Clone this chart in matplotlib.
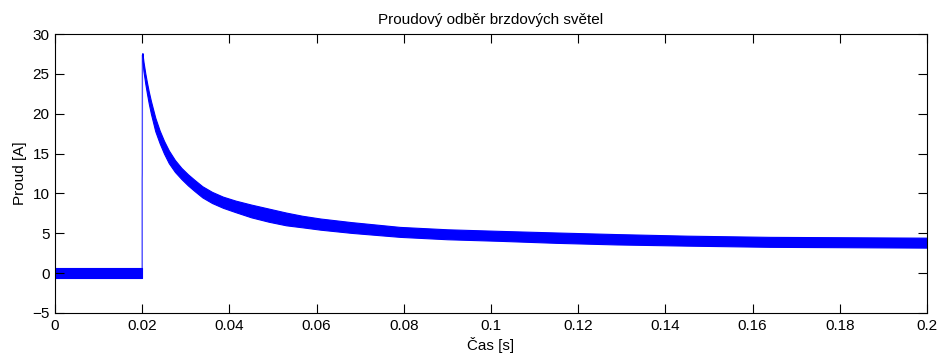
import numpy as np
import matplotlib.pyplot as plt

plt.rcParams['font.family'] = ['Liberation Sans', 'DejaVu Sans']
plt.rcParams['font.size'] = 11

# obálka zašuměného průběhu (čas [s], horní a dolní hrana [A])
t_pre = [0.0, 0.005, 0.010, 0.015, 0.0200]
hi_pre = [0.65, 0.65, 0.65, 0.65, 0.65]
lo_pre = [-0.65, -0.65, -0.65, -0.65, -0.65]

t_post = [0.02005, 0.0203, 0.0207, 0.0211, 0.0215, 0.0220, 0.0230, 0.0240,
          0.0250, 0.0261, 0.0275, 0.0290, 0.0305, 0.0320, 0.0338, 0.0360,
          0.0385, 0.0414, 0.0450, 0.0490, 0.0530, 0.0567, 0.0609, 0.0680,
          0.0791, 0.0900, 0.1021, 0.1150, 0.1288, 0.1450, 0.1640, 0.1820, 0.2000]
hi_post = [27.6, 26.5, 25.1, 23.9, 22.8, 21.6, 19.5, 17.9,
           16.6, 15.4, 14.2, 13.2, 12.4, 11.7, 10.9, 10.2,
           9.6, 9.1, 8.6, 8.1, 7.6, 7.2, 6.85, 6.4,
           5.8, 5.5, 5.3, 5.1, 4.9, 4.7, 4.55, 4.5, 4.45]
lo_post = [26.6, 25.3, 23.8, 22.5, 21.3, 20.0, 17.8, 16.3,
           15.0, 13.8, 12.7, 11.8, 11.0, 10.3, 9.5, 8.8,
           8.2, 7.65, 7.0, 6.45, 6.0, 5.75, 5.45, 5.05,
           4.55, 4.25, 4.05, 3.8, 3.6, 3.45, 3.3, 3.25, 3.2]

# náběh proudu v okamžiku sepnutí
t_rise = [0.0200, 0.0200, 0.02002, 0.02005]
i_rise = [-0.3, 11.8, 12.5, 27.3]

x_ticks = [0, 0.02, 0.04, 0.06, 0.08, 0.1, 0.12, 0.14, 0.16, 0.18, 0.2]
x_ticklabels = ['0', '0.02', '0.04', '0.06', '0.08', '0.1', '0.12', '0.14', '0.16', '0.18', '0.2']
y_ticks = [-5, 0, 5, 10, 15, 20, 25, 30]

fig = plt.figure(figsize=(9.4, 3.54), dpi=100)
ax = fig.add_axes([55 / 940, 1 - 313 / 354, 872 / 940, 279 / 354])

blue = (0, 0, 1)
ax.fill_between(t_pre, lo_pre, hi_pre, color=blue, lw=0.8, edgecolor=blue)
ax.fill_between(t_post, lo_post, hi_post, color=blue, lw=0.8, edgecolor=blue)
ax.plot(t_rise, i_rise, color=blue, lw=1.0, alpha=0.7)

ax.set_xlim(0, 0.2)
ax.set_ylim(-5, 30)
ax.set_xticks(x_ticks)
ax.set_xticklabels(x_ticklabels)
ax.set_yticks(y_ticks)
ax.tick_params(direction='in', length=6.2, width=0.8, top=True, right=True, pad=4)
for s in ax.spines.values():
    s.set_linewidth(0.8)

ax.set_title('Proudový odběr brzdových světel', fontsize=11, pad=7)
ax.set_xlabel('Čas [s]', labelpad=3)
ax.set_ylabel('Proud [A]', labelpad=4)

fig.savefig('out.png', dpi=100)
